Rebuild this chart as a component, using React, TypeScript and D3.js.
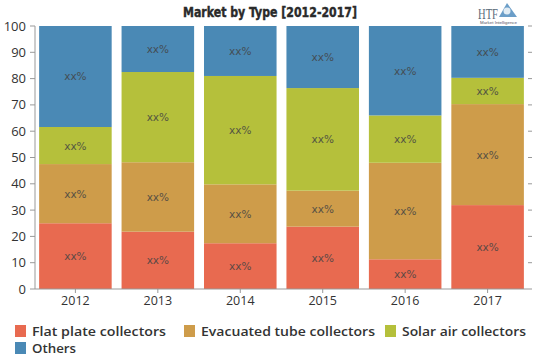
import React from "react";
import * as d3 from "d3";

const years = ["2012", "2013", "2014", "2015", "2016", "2017"];
const seriesNames = ["Flat plate collectors", "Evacuated tube collectors", "Solar air collectors", "Others"];
const flatPlate = [25, 21.8, 17.4, 23.7, 11.3, 31.9];
const evacuatedTube = [22.5, 26.4, 22.4, 13.7, 36.7, 38.4];
const solarAir = [14.1, 34.3, 41.2, 39.0, 18.0, 10.0];
const others = [38.4, 17.5, 19.0, 23.6, 34.0, 19.7];
const yTicks = [0, 10, 20, 30, 40, 50, 60, 70, 80, 90, 100];
const colors = ["#E86A50", "#CE9C4A", "#B5C03B", "#4A89B5"];

const W = 539;
const H = 359;

export default function App() {
  const x = d3.scaleBand<string>().domain(years).range([35, 528]).paddingInner(0.12).paddingOuter(0.05);
  const y = d3.scaleLinear().domain([0, 100]).range([289, 26]);
  const rows = years.map((yr, i) => ({
    year: yr,
    s0: flatPlate[i],
    s1: evacuatedTube[i],
    s2: solarAir[i],
    s3: others[i],
  }));
  const stack = d3.stack<any>().keys(["s0", "s1", "s2", "s3"]);
  const layers = stack(rows);

  const legendItems = [
    { name: seriesNames[0], color: colors[0], x: 15, y: 325, w: 134 },
    { name: seriesNames[1], color: colors[1], x: 184, y: 325, w: 174 },
    { name: seriesNames[2], color: colors[2], x: 385, y: 325, w: 124 },
    { name: seriesNames[3], color: colors[3], x: 15, y: 342, w: 44 },
  ];

  return (
    <svg width={W} height={H} style={{ position: "absolute", left: 0, top: 0, background: "#fff" }}>
      <text x={270} y={17} textAnchor="middle" fontFamily="DejaVu Sans Condensed, DejaVu Sans" fontWeight="bold" fontSize={14} fill="#2a2a2a" stroke="#2a2a2a" strokeWidth={0.4} textLength={174} lengthAdjust="spacingAndGlyphs" style={{ fontStretch: "condensed" }}>
        Market by Type [2012-2017]
      </text>
      <g>
        <text x={478} y={19} fontFamily="Liberation Serif" fontSize={14} fill="#5a6a7a" textLength={20} lengthAdjust="spacingAndGlyphs">HTF</text>
        <text x={480} y={23.5} fontFamily="Liberation Sans" fontSize={3.5} fill="#556" textLength={37} lengthAdjust="spacingAndGlyphs">Market Intelligence</text>
        <path d="M499,17 L507,3 L517,17 Z" fill="#3a7db5" opacity={0.75} />
        <circle cx={507} cy={11} r={3.5} fill="#fff" opacity={0.8} />
      </g>
      {layers.map((layer, li) => (
        <g key={li}>
          {layer.map((d, i) => {
            const x0 = x(years[i])!;
            const y0 = y(d[1]);
            const y1 = y(d[0]);
            return (
              <g key={i}>
                <rect x={x0} y={y0} width={x.bandwidth()} height={y1 - y0} fill={colors[li]} />
                <text x={x0 + x.bandwidth() / 2} y={(y0 + y1) / 2 + 4} textAnchor="middle" fontFamily="DejaVu Sans" fontSize={10.5} fill="#444" opacity={0.85}>
                  xx%
                </text>
              </g>
            );
          })}
        </g>
      ))}
      <line x1={35} x2={35} y1={26} y2={289} stroke="#999" />
      <line x1={35} x2={528} y1={289} y2={289} stroke="#999" />
      {yTicks.map((t) => (
        <g key={t}>
          <line x1={30} x2={35} y1={y(t)} y2={y(t)} stroke="#999" />
          <line x1={528} x2={532} y1={y(t)} y2={y(t)} stroke="#999" />
          <text x={26} y={y(t) + 4.5} textAnchor="end" fontFamily="Open Sans" fontSize={13} fill="#333">
            {t}
          </text>
        </g>
      ))}
      {years.map((yr) => (
        <g key={yr}>
          <line x1={x(yr)! + x.bandwidth() / 2} x2={x(yr)! + x.bandwidth() / 2} y1={289} y2={293} stroke="#999" />
          <text x={x(yr)! + x.bandwidth() / 2} y={305} textAnchor="middle" fontFamily="Open Sans" fontSize={12.5} fill="#333">
            {yr}
          </text>
        </g>
      ))}
      {legendItems.map((it) => (
        <g key={it.name}>
          <rect x={it.x} y={it.y} width={11} height={12} fill={it.color} />
          <text x={it.x + 17} y={it.y + 11} fontFamily="Open Sans" fontWeight={600} fontSize={13} fill="#333" textLength={it.w} lengthAdjust="spacingAndGlyphs">
            {it.name}
          </text>
        </g>
      ))}
    </svg>
  );
}
